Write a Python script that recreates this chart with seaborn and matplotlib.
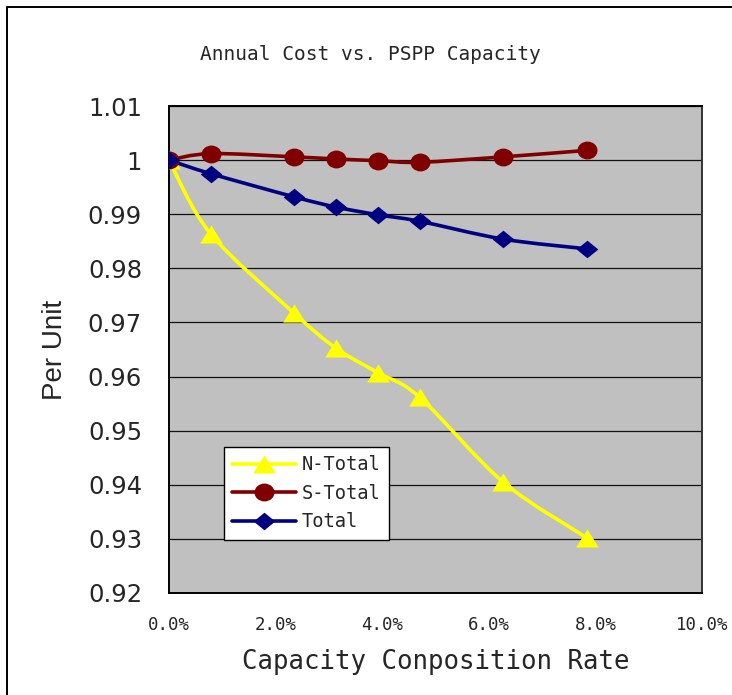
import numpy as np
import pandas as pd
import matplotlib
matplotlib.use("Agg")
import matplotlib.pyplot as plt
from matplotlib.path import Path
from matplotlib.patches import PathPatch
from matplotlib.lines import Line2D
from matplotlib.transforms import Affine2D
import seaborn as sns

# Capacity composition rate (fraction of total capacity)
capacity_rate = [0.0, 0.0078, 0.0235, 0.0314, 0.0392, 0.0470, 0.0627, 0.0784]

# Annual cost, per unit
n_total = [1.0, 0.9864, 0.9717, 0.9652, 0.9607, 0.9562, 0.9405, 0.9302]
s_total = [1.0, 1.0012, 1.0006, 1.0002, 0.9999, 0.9996, 1.0006, 1.0018]
total = [1.0, 0.9975, 0.9932, 0.9913, 0.9899, 0.9887, 0.9854, 0.9836]

series_names = ["N-Total", "S-Total", "Total"]
series_values = [n_total, s_total, total]
series_colors = ["#FFFF00", "#800000", "#000080"]

x_ticks = [0.0, 0.02, 0.04, 0.06, 0.08, 0.10]
x_tick_labels = ["0.0%", "2.0%", "4.0%", "6.0%", "8.0%", "10.0%"]
y_ticks = [0.92, 0.93, 0.94, 0.95, 0.96, 0.97, 0.98, 0.99, 1.00, 1.01]
y_tick_labels = ["0.92", "0.93", "0.94", "0.95", "0.96", "0.97", "0.98",
                 "0.99", "1", "1.01"]

title_text = "Annual Cost vs. PSPP Capacity"
x_label = "Capacity Conposition Rate"
y_label = "Per Unit"

sns.set_style("white")

MONO = "DejaVu Sans Mono"
SANS = "DejaVu Sans"


def wide_marker(path, sx):
    """Marker path stretched horizontally."""
    return path.transformed(Affine2D().scale(sx, 1.0))


tri_marker = wide_marker(Path([(-1.0, -0.8), (1.0, -0.8), (0.0, 0.8), (-1.0, -0.8)],
                              [Path.MOVETO, Path.LINETO, Path.LINETO, Path.CLOSEPOLY]), 1.0)
circ_marker = wide_marker(Path.unit_circle(), 1.12)
diam_marker = wide_marker(Path([(0, 1), (1, 0), (0, -1), (-1, 0), (0, 1)],
                               [Path.MOVETO, Path.LINETO, Path.LINETO, Path.LINETO,
                                Path.CLOSEPOLY]), 1.23)
series_markers = [tri_marker, circ_marker, diam_marker]
marker_sizes = [16.3, 14.4, 15.6]


def smooth_path(xs, ys):
    """Piecewise cubic Bezier through the points (spreadsheet-style smoothed line)."""
    pts = np.column_stack([xs, ys]).astype(float)
    n = len(pts)
    verts = [pts[0]]
    codes = [Path.MOVETO]
    for i in range(n - 1):
        p_prev = pts[i - 1] if i > 0 else pts[i]
        p_next2 = pts[i + 2] if i + 2 < n else pts[i + 1]
        c1 = pts[i] + (pts[i + 1] - p_prev) / 6.0
        c2 = pts[i + 1] - (p_next2 - pts[i]) / 6.0
        verts += [c1, c2, pts[i + 1]]
        codes += [Path.CURVE4] * 3
    return Path(verts, codes)


W, H = 732, 695
fig = plt.figure(figsize=(W / 100, H / 100), dpi=100)
fig.patch.set_facecolor("white")

ax_l, ax_r, ax_t, ax_b = 169, 702, 106, 593
ax = fig.add_axes([ax_l / W, (H - ax_b) / H, (ax_r - ax_l) / W, (ax_b - ax_t) / H])
ax.set_facecolor("#C0C0C0")

lines = []
for name, vals, color, mk, ms in zip(series_names, series_values, series_colors,
                                     series_markers, marker_sizes):
    df = pd.DataFrame({"rate": capacity_rate, "value": vals})
    sns.lineplot(data=df, x="rate", y="value", ax=ax, color=color, lw=2.6,
                 marker=mk, markersize=ms, markeredgewidth=0,
                 markeredgecolor=color, label=name, zorder=3)
    lines.append(ax.get_lines()[-1])

ax.set_xlim(0, 0.10)
ax.set_ylim(0.92, 1.01)
ax.set_xticks(x_ticks)
ax.set_xticklabels(x_tick_labels, fontfamily=MONO, fontsize=12.5)
ax.set_yticks(y_ticks)
ax.set_yticklabels(y_tick_labels, fontfamily=SANS, fontsize=17.5)
ax.tick_params(axis="y", direction="in", length=6, width=1, color="black", pad=19.4)
ax.tick_params(axis="x", direction="in", length=5, width=1, color="black", pad=16.5)

ax.yaxis.grid(True, color="#111111", lw=0.9)
ax.xaxis.grid(False)
ax.set_axisbelow(True)
for side, sp in ax.spines.items():
    sp.set_visible(True)
    sp.set_color("black" if side in ("left", "bottom", "top") else "#333333")
    sp.set_linewidth(1.4)

ax.set_xlabel(x_label, fontfamily=MONO, fontsize=18.5, va="center")
ax.xaxis.set_label_coords(0.5, (ax_b - 662) / (ax_b - ax_t))
ax.set_ylabel(y_label, fontfamily="Liberation Sans", fontsize=20,
              va="center", ha="center")
ax.yaxis.set_label_coords((55 - ax_l) / (ax_r - ax_l), 0.5)

fontsize_leg = 13.5
leg = ax.legend(loc="upper left",
                bbox_to_anchor=((224 - ax_l) / (ax_r - ax_l), (ax_b - 447) / (ax_b - ax_t)),
                borderaxespad=0, frameon=True, fancybox=False, framealpha=1,
                facecolor="white", edgecolor="black",
                prop={"family": MONO, "size": fontsize_leg},
                handlelength=3.4, handletextpad=0.3, labelspacing=0.5,
                borderpad=0.45)
leg.get_frame().set_linewidth(1.0)
leg.set_zorder(10)

# Replace the straight connecting segments with smoothed curves
for ln, vals, color, z in zip(lines, series_values, series_colors, [1.2, 1.4, 1.6]):
    ln.set_linestyle("none")
    patch = PathPatch(smooth_path(capacity_rate, vals), facecolor="none",
                      edgecolor=color, lw=2.6, zorder=z, capstyle="round",
                      joinstyle="round")
    ax.add_patch(patch)

fig.text(370 / W, 1 - 55 / H, title_text, ha="center", va="center",
         fontfamily=MONO, fontsize=14)

# Chart frame (top and left edges)
fig.add_artist(Line2D([7 / W, 1.0], [1 - 7 / H, 1 - 7 / H], transform=fig.transFigure,
                      color="black", lw=1.4))
fig.add_artist(Line2D([7 / W, 7 / W], [0.0, 1 - 7 / H], transform=fig.transFigure,
                      color="black", lw=1.4))

fig.savefig("out.png", dpi=100)
